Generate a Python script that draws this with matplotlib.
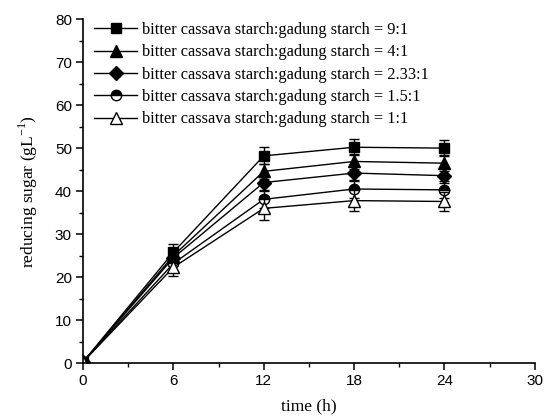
import matplotlib
matplotlib.use("Agg")
import matplotlib.pyplot as plt
from matplotlib.ticker import MultipleLocator

time_h = [0, 6, 12, 18, 24]
labels = [
    "bitter cassava starch:gadung starch = 9:1",
    "bitter cassava starch:gadung starch = 4:1",
    "bitter cassava starch:gadung starch = 2.33:1",
    "bitter cassava starch:gadung starch = 1.5:1",
    "bitter cassava starch:gadung starch = 1:1",
]
sugar_9_1 = [0.3, 25.8, 48.2, 50.2, 50.0]
sugar_4_1 = [0.3, 25.0, 44.6, 46.9, 46.5]
sugar_233_1 = [0.3, 24.5, 42.0, 44.2, 43.6]
sugar_15_1 = [0.3, 23.2, 38.1, 40.5, 40.3]
sugar_1_1 = [0.3, 22.3, 36.0, 37.8, 37.6]
err_9_1 = [0.2, 2.0, 2.0, 1.9, 1.9]
err_4_1 = [0.2, 1.8, 1.8, 1.8, 1.8]
err_233_1 = [0.2, 1.8, 1.8, 1.8, 1.8]
err_15_1 = [0.2, 1.9, 2.0, 2.0, 2.0]
err_1_1 = [0.2, 2.0, 2.8, 2.5, 2.2]

series = [sugar_9_1, sugar_4_1, sugar_233_1, sugar_15_1, sugar_1_1]
errors = [err_9_1, err_4_1, err_233_1, err_15_1, err_1_1]

fig = plt.figure(figsize=(5.44, 4.17), dpi=100)
ax = fig.add_axes([0.1526, 0.1288, 0.8304, 0.8256])

styles = [
    dict(marker="s", mfc="black", ms=7.5),
    dict(marker="^", mfc="black", ms=8.5),
    dict(marker="D", mfc="black", ms=7),
    dict(marker="o", fillstyle="top", mfc="black", markerfacecoloralt="white", ms=7.5),
    dict(marker="^", mfc="white", ms=8.5),
]

handles = []
for y, e, lab, st in zip(series, errors, labels, styles):
    ax.errorbar(time_h, y, yerr=e, fmt="none", ecolor="black", capsize=3.5,
                elinewidth=1.0, capthick=1.0)
    h, = ax.plot(time_h, y, color="black", lw=1.0, mec="black", mew=1.0,
                 label=lab, **st)
    handles.append(h)

ax.set_xlim(0, 30)
ax.set_ylim(0, 80)
ax.xaxis.set_major_locator(MultipleLocator(6))
ax.xaxis.set_minor_locator(MultipleLocator(3))
ax.yaxis.set_major_locator(MultipleLocator(10))
ax.yaxis.set_minor_locator(MultipleLocator(5))
for s in ["top", "right"]:
    ax.spines[s].set_visible(False)
for s in ["left", "bottom"]:
    ax.spines[s].set_linewidth(1.2)
ax.tick_params(which="major", direction="out", length=5, width=1.1,
               labelsize=11, pad=3)
ax.tick_params(which="minor", direction="out", length=3, width=1.0)
for t in ax.get_xticklabels() + ax.get_yticklabels():
    t.set_fontfamily("Liberation Sans")

ax.set_xlabel("time (h)", family="Liberation Serif", fontsize=12.5, labelpad=7)
ax.set_ylabel("reducing sugar (gL$^{\\mathregular{-1}}$)", family="Liberation Serif",
              fontsize=12.5, labelpad=11)

leg = ax.legend(handles=handles, loc="upper left", frameon=False,
                prop={"family": "Liberation Serif", "size": 11.8},
                handlelength=2.6, handletextpad=0.3, labelspacing=0.39,
                bbox_to_anchor=(0.0, 1.025), borderaxespad=0.3)

fig.savefig("out.png", dpi=100)
